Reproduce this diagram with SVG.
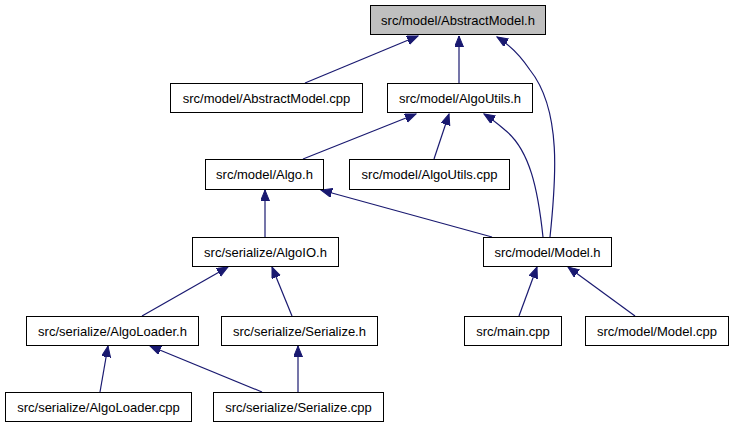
<svg xmlns="http://www.w3.org/2000/svg" width="732" height="427" viewBox="0 0 732 427">
<defs>
<style>
.n rect{fill:#ffffff;stroke:#000000;stroke-width:1}
.n.g rect{fill:#bfbfbf}
.n text{font-family:"Liberation Sans",Arial,sans-serif;font-size:13px;text-anchor:middle;fill:#000000}
.e path{fill:none;stroke:#191970;stroke-width:1.2;marker-end:url(#ah)}
</style>
<marker id="ah" markerUnits="userSpaceOnUse" markerWidth="12" markerHeight="10" refX="11" refY="4.5" orient="auto">
<path d="M0,0 L11,4.5 L0,9 z" fill="#191970" stroke="#191970" stroke-width="1"/>
</marker>
</defs>
<rect width="732" height="427" fill="#ffffff"/>
<g id="edges" class="e">
<path d="M305,83 L418,36"/>
<path d="M459,83 L459,36"/>
<path d="M550,237 C556,180 562,110 530,70 C522,58 510,45 497,37"/>
<path d="M303,159 L416,114"/>
<path d="M434,159 L449,114"/>
<path d="M543,237 C538,190 530,150 505,130 C498,124 492,119 484,114"/>
<path d="M265,237 L265,190"/>
<path d="M492,237 L321,190"/>
<path d="M142,316 L228,267"/>
<path d="M292,316 L272,267"/>
<path d="M519,316 L537,267"/>
<path d="M635,316 L568,267"/>
<path d="M100,392 L108,346"/>
<path d="M262,392 L150,346"/>
<path d="M298,392 L298,346"/>
</g>
<g id="n_abstractmodel_h" class="n g"><rect x="370.5" y="5.5" width="175" height="29"/><text x="458" y="24.5">src/model/AbstractModel.h</text></g>
<g id="n_abstractmodel_cpp" class="n"><rect x="170.5" y="83.5" width="192" height="29"/><text x="266.5" y="102.5">src/model/AbstractModel.cpp</text></g>
<g id="n_algoutils_h" class="n"><rect x="387.5" y="83.5" width="145" height="29"/><text x="460" y="102.5">src/model/AlgoUtils.h</text></g>
<g id="n_algo_h" class="n"><rect x="205.5" y="159.5" width="118" height="30"/><text x="264.5" y="179">src/model/Algo.h</text></g>
<g id="n_algoutils_cpp" class="n"><rect x="349.5" y="159.5" width="160" height="30"/><text x="429.5" y="179">src/model/AlgoUtils.cpp</text></g>
<g id="n_algoio_h" class="n"><rect x="192.5" y="237.5" width="146" height="29"/><text x="265.5" y="256.5">src/serialize/AlgoIO.h</text></g>
<g id="n_model_h" class="n"><rect x="483.5" y="237.5" width="128" height="29"/><text x="547.5" y="256.5">src/model/Model.h</text></g>
<g id="n_algoloader_h" class="n"><rect x="26.5" y="316.5" width="172" height="29"/><text x="112.5" y="335.5">src/serialize/AlgoLoader.h</text></g>
<g id="n_serialize_h" class="n"><rect x="221.5" y="316.5" width="156" height="29"/><text x="299.5" y="335.5">src/serialize/Serialize.h</text></g>
<g id="n_main_cpp" class="n"><rect x="464.5" y="316.5" width="97" height="29"/><text x="513" y="335.5">src/main.cpp</text></g>
<g id="n_model_cpp" class="n"><rect x="585.5" y="316.5" width="143" height="29"/><text x="657" y="335.5">src/model/Model.cpp</text></g>
<g id="n_algoloader_cpp" class="n"><rect x="5.5" y="392.5" width="186" height="29"/><text x="98.5" y="411.5">src/serialize/AlgoLoader.cpp</text></g>
<g id="n_serialize_cpp" class="n"><rect x="213.5" y="392.5" width="170" height="29"/><text x="298.5" y="411.5">src/serialize/Serialize.cpp</text></g>
</svg>
